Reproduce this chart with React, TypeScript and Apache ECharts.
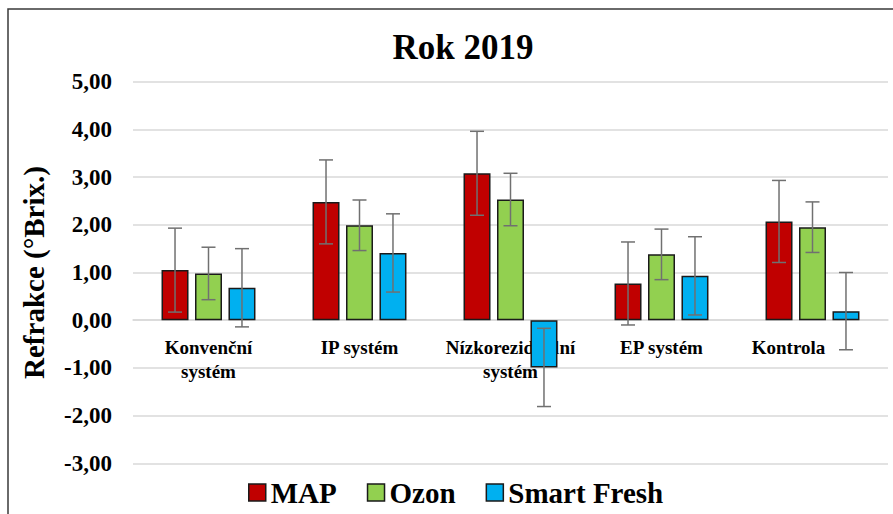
import React, { useEffect, useRef } from "react";
import * as echarts from "echarts";

const categories = ["Konvenční\nsystém", "IP systém", "Nízkoreziduální\nsystém", "EP systém", "Kontrola"];
const seriesNames = ["MAP", "Ozon", "Smart Fresh"];
const mapValues = [1.05, 2.48, 3.08, 0.77, 2.07];
const mapErrors = [0.88, 0.88, 0.88, 0.87, 0.86];
const ozonValues = [0.98, 1.99, 2.53, 1.38, 1.95];
const ozonErrors = [0.55, 0.53, 0.55, 0.53, 0.53];
const freshValues = [0.68, 1.41, -0.99, 0.93, 0.19];
const freshErrors = [0.82, 0.82, 0.82, 0.82, 0.81];
const yTicks = { min: -3, max: 5, interval: 1 };

const colors = ["#C00000", "#92D050", "#00B0F0"];
const FONT = "'Liberation Serif', 'Times New Roman', serif";
const BAR_W = 27;
const BAR_GAP = 0.24;
const GRID_TOP = 81.7;
const GRID_BOTTOM = 50.7;
const CHART_H = 514;

export default function App() {
  const ref = useRef<HTMLDivElement>(null);
  useEffect(() => {
    if (!ref.current) return;
    const chart = echarts.init(ref.current, undefined, { renderer: "svg" });
    const valuesList = [mapValues, ozonValues, freshValues];
    const errorsList = [mapErrors, ozonErrors, freshErrors];
    const errData: number[][] = [];
    valuesList.forEach((vals, si) => {
      vals.forEach((v, ci) => {
        const e = errorsList[si][ci];
        errData.push([ci, si, v - e, v + e]);
      });
    });
    // place the category axis on the zero line of the value axis
    const gridH = CHART_H - GRID_TOP - GRID_BOTTOM;
    const zeroFromBottom = (gridH * (0 - yTicks.min)) / (yTicks.max - yTicks.min);
    const labelStyle = { fontFamily: FONT, fontWeight: "bold", fontSize: 19, lineHeight: 24, color: "#000" };
    const barSeries = seriesNames.map((name, i) => ({
      name,
      type: "bar",
      data: valuesList[i],
      barWidth: BAR_W,
      barGap: `${BAR_GAP * 100}%`,
      itemStyle: { color: colors[i], borderColor: "#1a1a1a", borderWidth: 1.5 },
    }));
    chart.setOption({
      animation: false,
      backgroundColor: "#ffffff",
      graphic: [
        {
          type: "rect",
          shape: { x: 8, y: 9, width: 900, height: 520 },
          style: { fill: "none", stroke: "#3a3a3a", lineWidth: 1.5 },
          silent: true,
        },
      ],
      title: {
        text: "Rok 2019",
        left: 458,
        top: 25,
        textAlign: "center",
        textStyle: { fontFamily: FONT, fontWeight: "bold", fontSize: 35, color: "#000" },
      },
      legend: {
        data: seriesNames,
        left: 248,
        top: 478,
        padding: 0,
        icon: "rect",
        itemWidth: 17,
        itemHeight: 17,
        itemGap: 30,
        itemStyle: { borderColor: "#1a1a1a", borderWidth: 1.5 },
        textStyle: { fontFamily: FONT, fontWeight: "bold", fontSize: 29, color: "#000" },
      },
      grid: { left: 133, right: 5, top: GRID_TOP, bottom: GRID_BOTTOM, containLabel: false },
      xAxis: {
        type: "category",
        data: categories,
        position: "bottom",
        offset: -zeroFromBottom,
        axisLine: { show: true, onZero: false, lineStyle: { color: "#d9d9d9", width: 1.5 } },
        axisTick: { show: false },
        axisLabel: {
          interval: 0,
          margin: 15,
          ...labelStyle,
          formatter: (v: string, idx: number) =>
            idx === categories.length - 1 ? `{shift|${v}}` : v,
          rich: {
            shift: { ...labelStyle, padding: [0, 48, 0, 0] },
          },
        },
      },
      yAxis: {
        type: "value",
        min: yTicks.min,
        max: yTicks.max,
        interval: yTicks.interval,
        name: "Refrakce (°Brix.)",
        nameLocation: "middle",
        nameRotate: 90,
        nameGap: 85,
        nameTextStyle: { fontFamily: FONT, fontWeight: "bold", fontSize: 29, color: "#000" },
        axisLine: { show: false },
        axisTick: { show: false },
        splitLine: { lineStyle: { color: "#d9d9d9", width: 1.5 } },
        axisLabel: {
          margin: 21,
          fontFamily: FONT,
          fontWeight: "bold",
          fontSize: 23,
          color: "#000",
          formatter: (v: number) => v.toFixed(2).replace(".", ","),
        },
      },
      series: [
        ...barSeries,
        {
          type: "custom",
          name: "err",
          data: errData,
          encode: { x: 0, y: [2, 3] },
          z: 5,
          silent: true,
          renderItem: (params: any, api: any) => {
            const ci = api.value(0);
            const si = api.value(1);
            const offset = (si - 1) * (BAR_W * (1 + BAR_GAP));
            const base = api.coord([ci, 0]);
            const x = base[0] + offset;
            const yLo = api.coord([ci, api.value(2)])[1];
            const yHi = api.coord([ci, api.value(3)])[1];
            const cap = 7;
            const st = { stroke: "#707070", lineWidth: 1.5 };
            return {
              type: "group",
              children: [
                { type: "line", shape: { x1: x, y1: yLo, x2: x, y2: yHi }, style: st },
                { type: "line", shape: { x1: x - cap, y1: yLo, x2: x + cap, y2: yLo }, style: st },
                { type: "line", shape: { x1: x - cap, y1: yHi, x2: x + cap, y2: yHi }, style: st },
              ],
            };
          },
        },
      ],
    });
    return () => chart.dispose();
  }, []);
  return (
    <div
      ref={ref}
      style={{ position: "fixed", left: 0, top: 0, width: 893, height: 514 }}
    />
  );
}
